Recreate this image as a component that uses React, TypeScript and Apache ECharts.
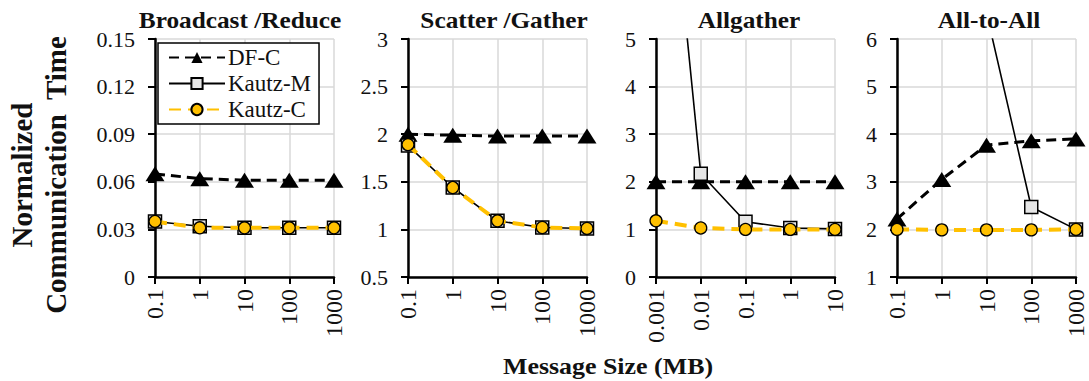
import React, { useEffect, useRef } from "react";
import * as echarts from "echarts";

const FONT = "Liberation Serif";
const FONT_CSS = '"Liberation Serif", "Times New Roman", serif';

const panelTitles = ["Broadcast /Reduce", "Scatter /Gather", "Allgather", "All-to-All"];
const catsBroadcast = ["0.1", "1", "10", "100", "1000"];
const catsScatter = ["0.1", "1", "10", "100", "1000"];
const catsAllgather = ["0.001", "0.01", "0.1", "1", "10"];
const catsAllToAll = ["0.1", "1", "10", "100", "1000"];

const seriesNames = ["DF-C", "Kautz-M", "Kautz-C"];

// Broadcast / Reduce
const bcDFC = [0.065, 0.062, 0.061, 0.061, 0.061];
const bcKautzM = [0.035, 0.032, 0.031, 0.031, 0.031];
const bcKautzC = [0.035, 0.031, 0.031, 0.031, 0.031];
// Scatter / Gather
const sgDFC = [2.0, 1.99, 1.98, 1.98, 1.98];
const sgKautzM = [1.88, 1.44, 1.09, 1.02, 1.01];
const sgKautzC = [1.89, 1.44, 1.09, 1.02, 1.01];
// Allgather
const agDFC = [2.0, 2.0, 2.0, 2.0, 2.0];
const agKautzM = [11.6, 2.17, 1.16, 1.03, 1.01];
const agKautzC = [1.18, 1.03, 1.0, 1.0, 1.0];
// All-to-All
const aaDFC = [2.22, 3.05, 3.77, 3.86, 3.9];
const aaKautzM = [18, 10, 6.55, 2.47, 2.0];
const aaKautzC = [2.0, 1.99, 1.99, 1.99, 2.0];

const yRanges = [
  { min: 0, max: 0.15, interval: 0.03, digits: 2 },
  { min: 0.5, max: 3, interval: 0.5, digits: 1 },
  { min: 0, max: 5, interval: 1, digits: 0 },
  { min: 1, max: 6, interval: 1, digits: 0 },
];

const panelCats = [catsBroadcast, catsScatter, catsAllgather, catsAllToAll];
const panelData = [
  [bcDFC, bcKautzM, bcKautzC],
  [sgDFC, sgKautzM, sgKautzC],
  [agDFC, agKautzM, agKautzC],
  [aaDFC, aaKautzM, aaKautzC],
];

const gridLefts = [155, 408, 656, 897];
const titleCenters = [240, 504, 749, 989];
const GRID_W = 179;
const GRID_TOP = 39;
const GRID_H = 238;

function fmt(v: number, digits: number) {
  if (Math.abs(v) < 1e-9) return "0";
  const s = v.toFixed(digits);
  return String(parseFloat(s));
}

export default function App() {
  const ref = useRef<HTMLDivElement>(null);
  useEffect(() => {
    if (!ref.current) return;
    const chart = echarts.init(ref.current, null, { renderer: "svg" });

    const grids = gridLefts.map((l) => ({ left: l, top: GRID_TOP, width: GRID_W, height: GRID_H }));
    const xAxes = panelCats.map((cats, i) => ({
      type: "category",
      gridIndex: i,
      data: cats,
      boundaryGap: false,
      axisLine: { show: true, lineStyle: { color: "#000", width: 2.5 } },
      axisTick: { show: true, length: 7, lineStyle: { color: "#000", width: 2 } },
      axisLabel: { rotate: 90, fontFamily: FONT_CSS, fontSize: 24, color: "#111", margin: 12 },
      splitLine: { show: true, lineStyle: { color: "#d9d9d9", width: 1.5 } },
    }));
    const yAxes = yRanges.map((r, i) => ({
      type: "value",
      gridIndex: i,
      min: r.min,
      max: r.max,
      interval: r.interval,
      axisLine: { show: true, lineStyle: { color: "#000", width: 2.5 } },
      axisTick: { show: true, length: 7, lineStyle: { color: "#000", width: 2 } },
      axisLabel: {
        fontFamily: FONT_CSS,
        fontSize: 22,
        color: "#111",
        margin: 20,
        formatter: (v: number) => fmt(v, r.digits),
      },
      splitLine: { show: true, lineStyle: { color: "#d9d9d9", width: 1.5 } },
    }));

    const styles = [
      {
        symbol: "triangle",
        symbolSize: [19, 15],
        lineStyle: { color: "#000", width: 3, type: [10, 6] },
        itemStyle: { color: "#000", borderColor: "#000", borderWidth: 0 },
      },
      {
        symbol: "rect",
        symbolSize: 13,
        lineStyle: { color: "#000", width: 1.6, type: "solid" },
        itemStyle: { color: "#e6e6e6", borderColor: "#000", borderWidth: 1.5 },
      },
      {
        symbol: "circle",
        symbolSize: 12,
        lineStyle: { color: "#FFC000", width: 4, type: [12, 7] },
        itemStyle: { color: "#FFC000", borderColor: "#000", borderWidth: 1.3 },
      },
    ];

    const series: any[] = [];
    panelData.forEach((set, p) => {
      set.forEach((vals, s) => {
        series.push({
          type: "line",
          name: seriesNames[s],
          xAxisIndex: p,
          yAxisIndex: p,
          data: vals,
          clip: true,
          showAllSymbol: true,
          ...styles[s],
          z: 2 + s,
        });
      });
    });

    const titleGraphics = panelTitles.map((t, i) => ({
      type: "text",
      x: titleCenters[i],
      y: 20,
      scaleX: 1.1,
      style: {
        text: t,
        font: `bold 23px ${FONT_CSS}`,
        fill: "#111",
        textAlign: "center",
        textVerticalAlign: "middle",
      },
    }));

    chart.setOption({
      animation: false,
      textStyle: { fontFamily: FONT_CSS },
      grid: grids,
      xAxis: xAxes,
      yAxis: yAxes,
      legend: {
        data: seriesNames,
        orient: "vertical",
        left: 158,
        top: 43,
        padding: [3, 8, 3, 10],
        itemGap: 3,
        itemWidth: 56,
        itemHeight: 14,
        backgroundColor: "#fff",
        borderColor: "#000",
        borderWidth: 1.5,
        borderRadius: 0,
        textStyle: { fontFamily: FONT_CSS, fontSize: 23, color: "#111", padding: [0, 0, 0, -2] },
      },
      series,
      graphic: [
        ...titleGraphics,
        {
          type: "text",
          x: 39,
          y: 175,
          rotation: Math.PI / 2,
          style: {
            text: "Normalized\nCommunication  Time",
            font: `bold 29px ${FONT_CSS}`,
            lineHeight: 34,
            fill: "#111",
            textAlign: "center",
            textVerticalAlign: "middle",
          },
        },
        {
          type: "text",
          x: 608,
          y: 366,
          scaleX: 1.08,
          style: {
            text: "Message Size (MB)",
            font: `bold 24px ${FONT_CSS}`,
            fill: "#111",
            textAlign: "center",
            textVerticalAlign: "middle",
          },
        },
      ],
    });
    return () => chart.dispose();
  }, []);
  return (
    <div
      ref={ref}
      style={{ position: "fixed", left: 0, top: 0, width: 1089, height: 381, background: "#fff" }}
    />
  );
}
